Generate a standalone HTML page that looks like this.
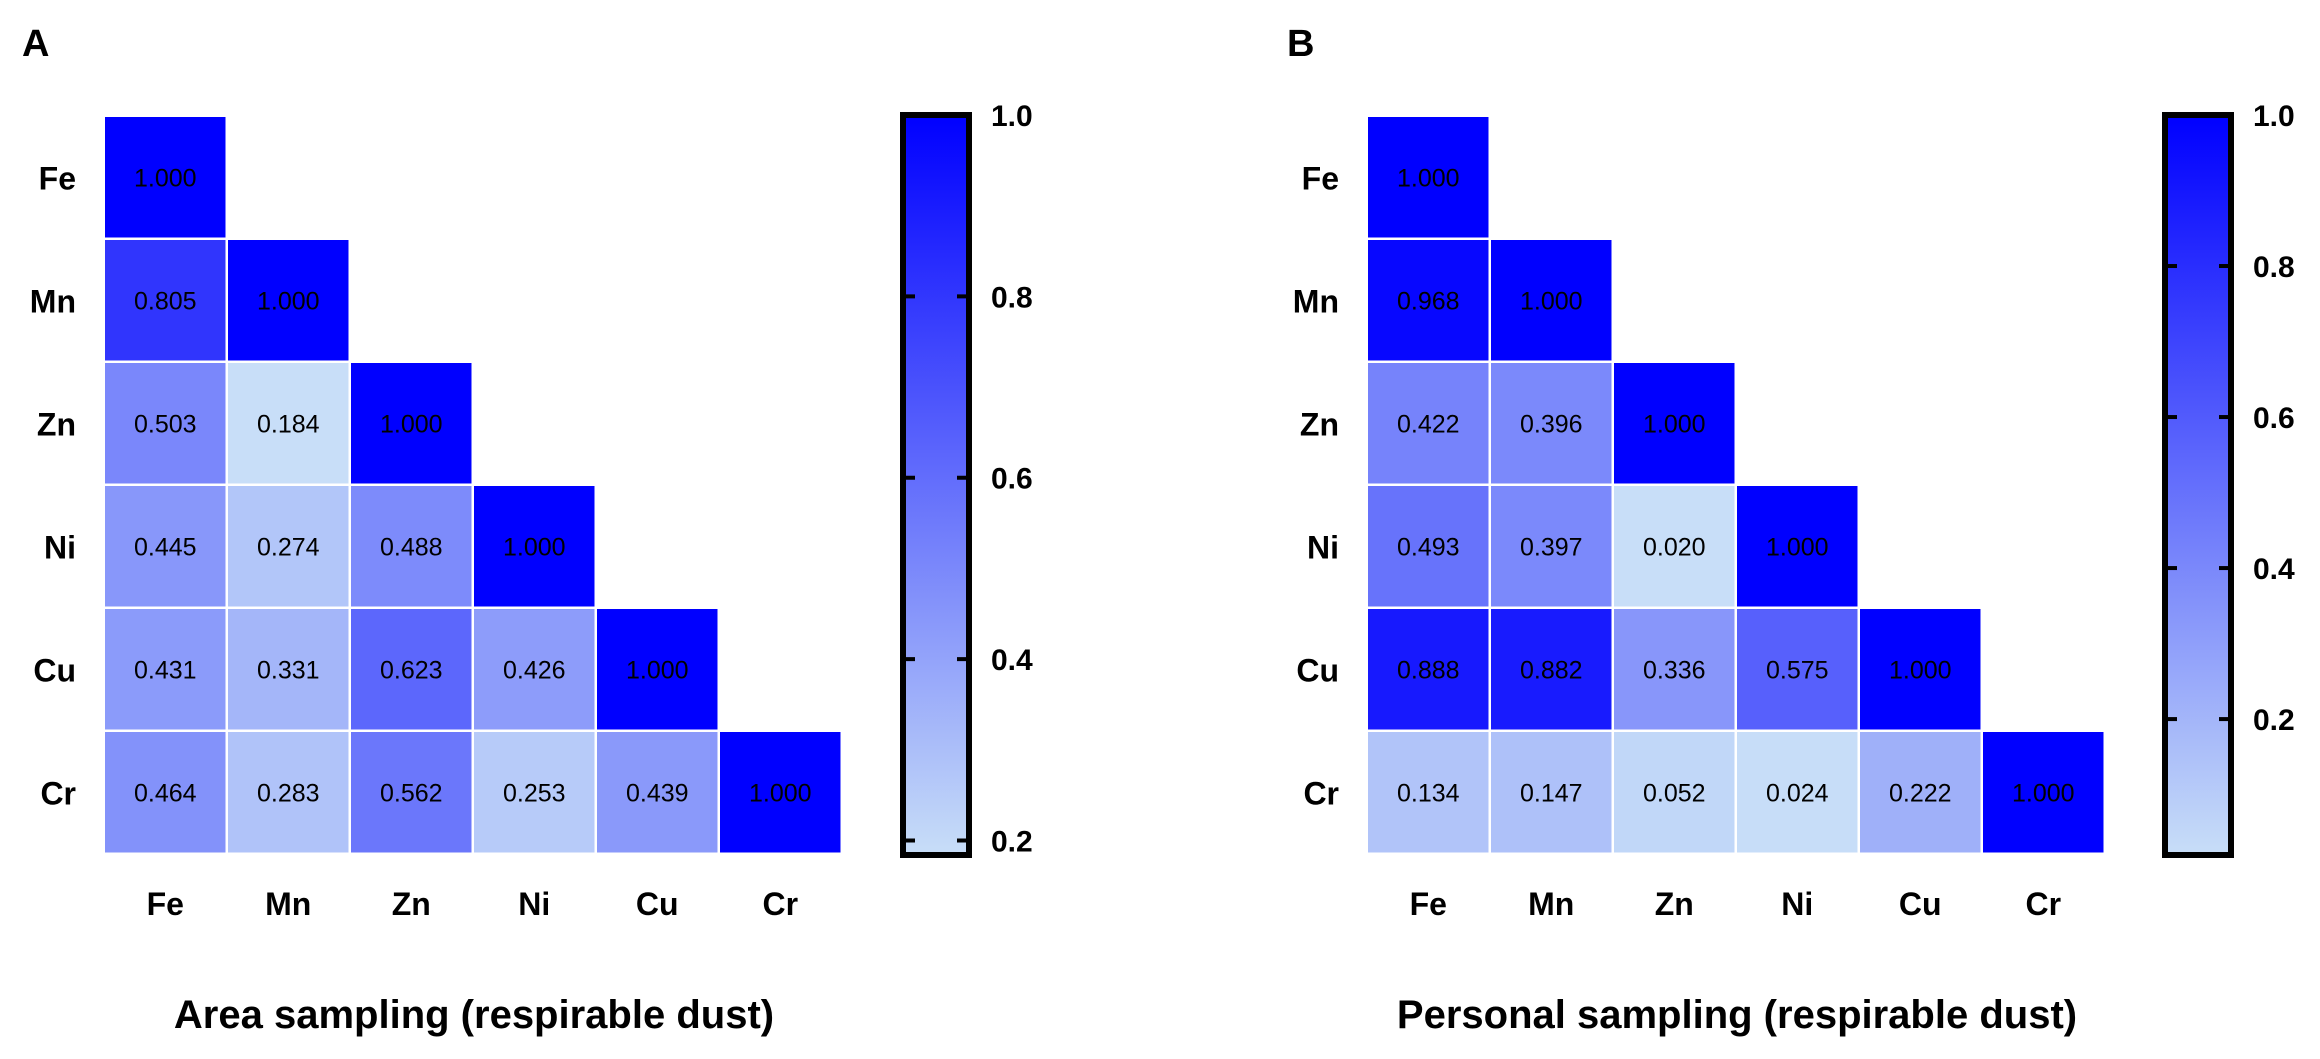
<!DOCTYPE html>
<html><head><meta charset="utf-8"><style>
html,body{margin:0;padding:0;background:#fff;}
svg{display:block;font-family:"Liberation Sans",Arial,sans-serif;}
</style></head><body>
<svg id="fig" width="2320" height="1059" viewBox="0 0 2320 1059" xmlns="http://www.w3.org/2000/svg">
<defs>
<linearGradient id="gradA" x1="0" y1="1" x2="0" y2="0"><stop offset="0" stop-color="rgb(200,222,248)"/><stop offset="1" stop-color="rgb(0,0,255)"/></linearGradient>
<linearGradient id="gradB" x1="0" y1="1" x2="0" y2="0"><stop offset="0" stop-color="rgb(200,222,248)"/><stop offset="1" stop-color="rgb(0,0,255)"/></linearGradient>
</defs>
</svg>
<script>
const elements = ["Fe","Mn","Zn","Ni","Cu","Cr"];
// lower-triangle values, row i has i+1 entries
const valuesA = [
 [1.000],
 [0.805,1.000],
 [0.503,0.184,1.000],
 [0.445,0.274,0.488,1.000],
 [0.431,0.331,0.623,0.426,1.000],
 [0.464,0.283,0.562,0.253,0.439,1.000]
];
const valuesB = [
 [1.000],
 [0.968,1.000],
 [0.422,0.396,1.000],
 [0.493,0.397,0.020,1.000],
 [0.888,0.882,0.336,0.575,1.000],
 [0.134,0.147,0.052,0.024,0.222,1.000]
];
const ticksA = [0.2,0.4,0.6,0.8,1.0];
const ticksB = [0.2,0.4,0.6,0.8,1.0];
const rangeA = [0.184,1.0];
const rangeB = [0.020,1.0];

const NS="http://www.w3.org/2000/svg";
const svg=document.getElementById('fig');
function mk(tag,attrs,parent){const e=document.createElementNS(NS,tag);for(const k in attrs)e.setAttribute(k,attrs[k]);(parent||svg).appendChild(e);return e;}
function color(v,lo,hi){let t=(v-lo)/(hi-lo);t=Math.max(0,Math.min(1,t));
 const r=Math.round(200*(1-t)),g=Math.round(222*(1-t)),b=Math.round(248+7*t);return `rgb(${r},${g},${b})`;}

function panel(cfg){
 const g=mk('g',{});
 
 
 const x0=cfg.x0,y0=117,p=123,gap=2.5;
 const xs=i=>x0+i*p, ys=i=>y0+i*p;
 const pl=mk('text',{x:cfg.letterX,y:56,'font-size':38,'font-weight':'bold'},g);pl.textContent=cfg.letter;
 
 cfg.vals.forEach((row,i)=>row.forEach((v,j)=>{
  const r=mk('rect',{x:xs(j),y:ys(i),width:p-gap,height:p-gap,fill:color(v,cfg.range[0],cfg.range[1])},g);
  
  
  const t=mk('text',{x:xs(j)+(p-gap)/2,y:ys(i)+(p-gap)/2+9,'text-anchor':'middle','font-size':25,fill:'#000'},g);
  t.textContent=v.toFixed(3);
  
  
 }));
 elements.forEach((el,i)=>{
  const t=mk('text',{x:x0-29,y:ys(i)+p/2+11,'text-anchor':'end','font-size':32,'font-weight':'bold'},g);t.textContent=el;
  
  const c=mk('text',{x:xs(i)+(p-gap)/2,y:915,'text-anchor':'middle','font-size':32,'font-weight':'bold'},g);c.textContent=el;
  
 });
 const tt=mk('text',{x:x0+3*p,y:1028,'text-anchor':'middle','font-size':40,'font-weight':'bold'},g);tt.textContent=cfg.title;
 
 // colorbar
 const bx=cfg.barX,bw=66,top=115,bot=855;
 const cb=mk('rect',{x:bx,y:top,width:bw,height:bot-top,fill:`url(#${cfg.grad})`,stroke:'#000','stroke-width':6},g);
 
 const yv=v=>bot-(v-cfg.range[0])/(cfg.range[1]-cfg.range[0])*(bot-top);
 cfg.ticks.forEach(v=>{
  const y=yv(v);
  if(v<1.0){
   mk('line',{x1:bx,x2:bx+12,y1:y,y2:y,stroke:'#000','stroke-width':4},g);
   mk('line',{x1:bx+bw-12,x2:bx+bw,y1:y,y2:y,stroke:'#000','stroke-width':4},g);
  }
  const t=mk('text',{x:bx+88,y:y+11,'font-size':30,'font-weight':'bold'},g);t.textContent=v.toFixed(1);
  
 });
}
panel({name:'panel-a-area-sampling',letter:'A',letterX:22,x0:105,vals:valuesA,range:rangeA,ticks:ticksA,barX:903,grad:'gradA',title:'Area sampling (respirable dust)'});
panel({name:'panel-b-personal-sampling',letter:'B',letterX:1287,x0:1368,vals:valuesB,range:rangeB,ticks:ticksB,barX:2165,grad:'gradB',title:'Personal sampling (respirable dust)'});
</script>
</body></html>
